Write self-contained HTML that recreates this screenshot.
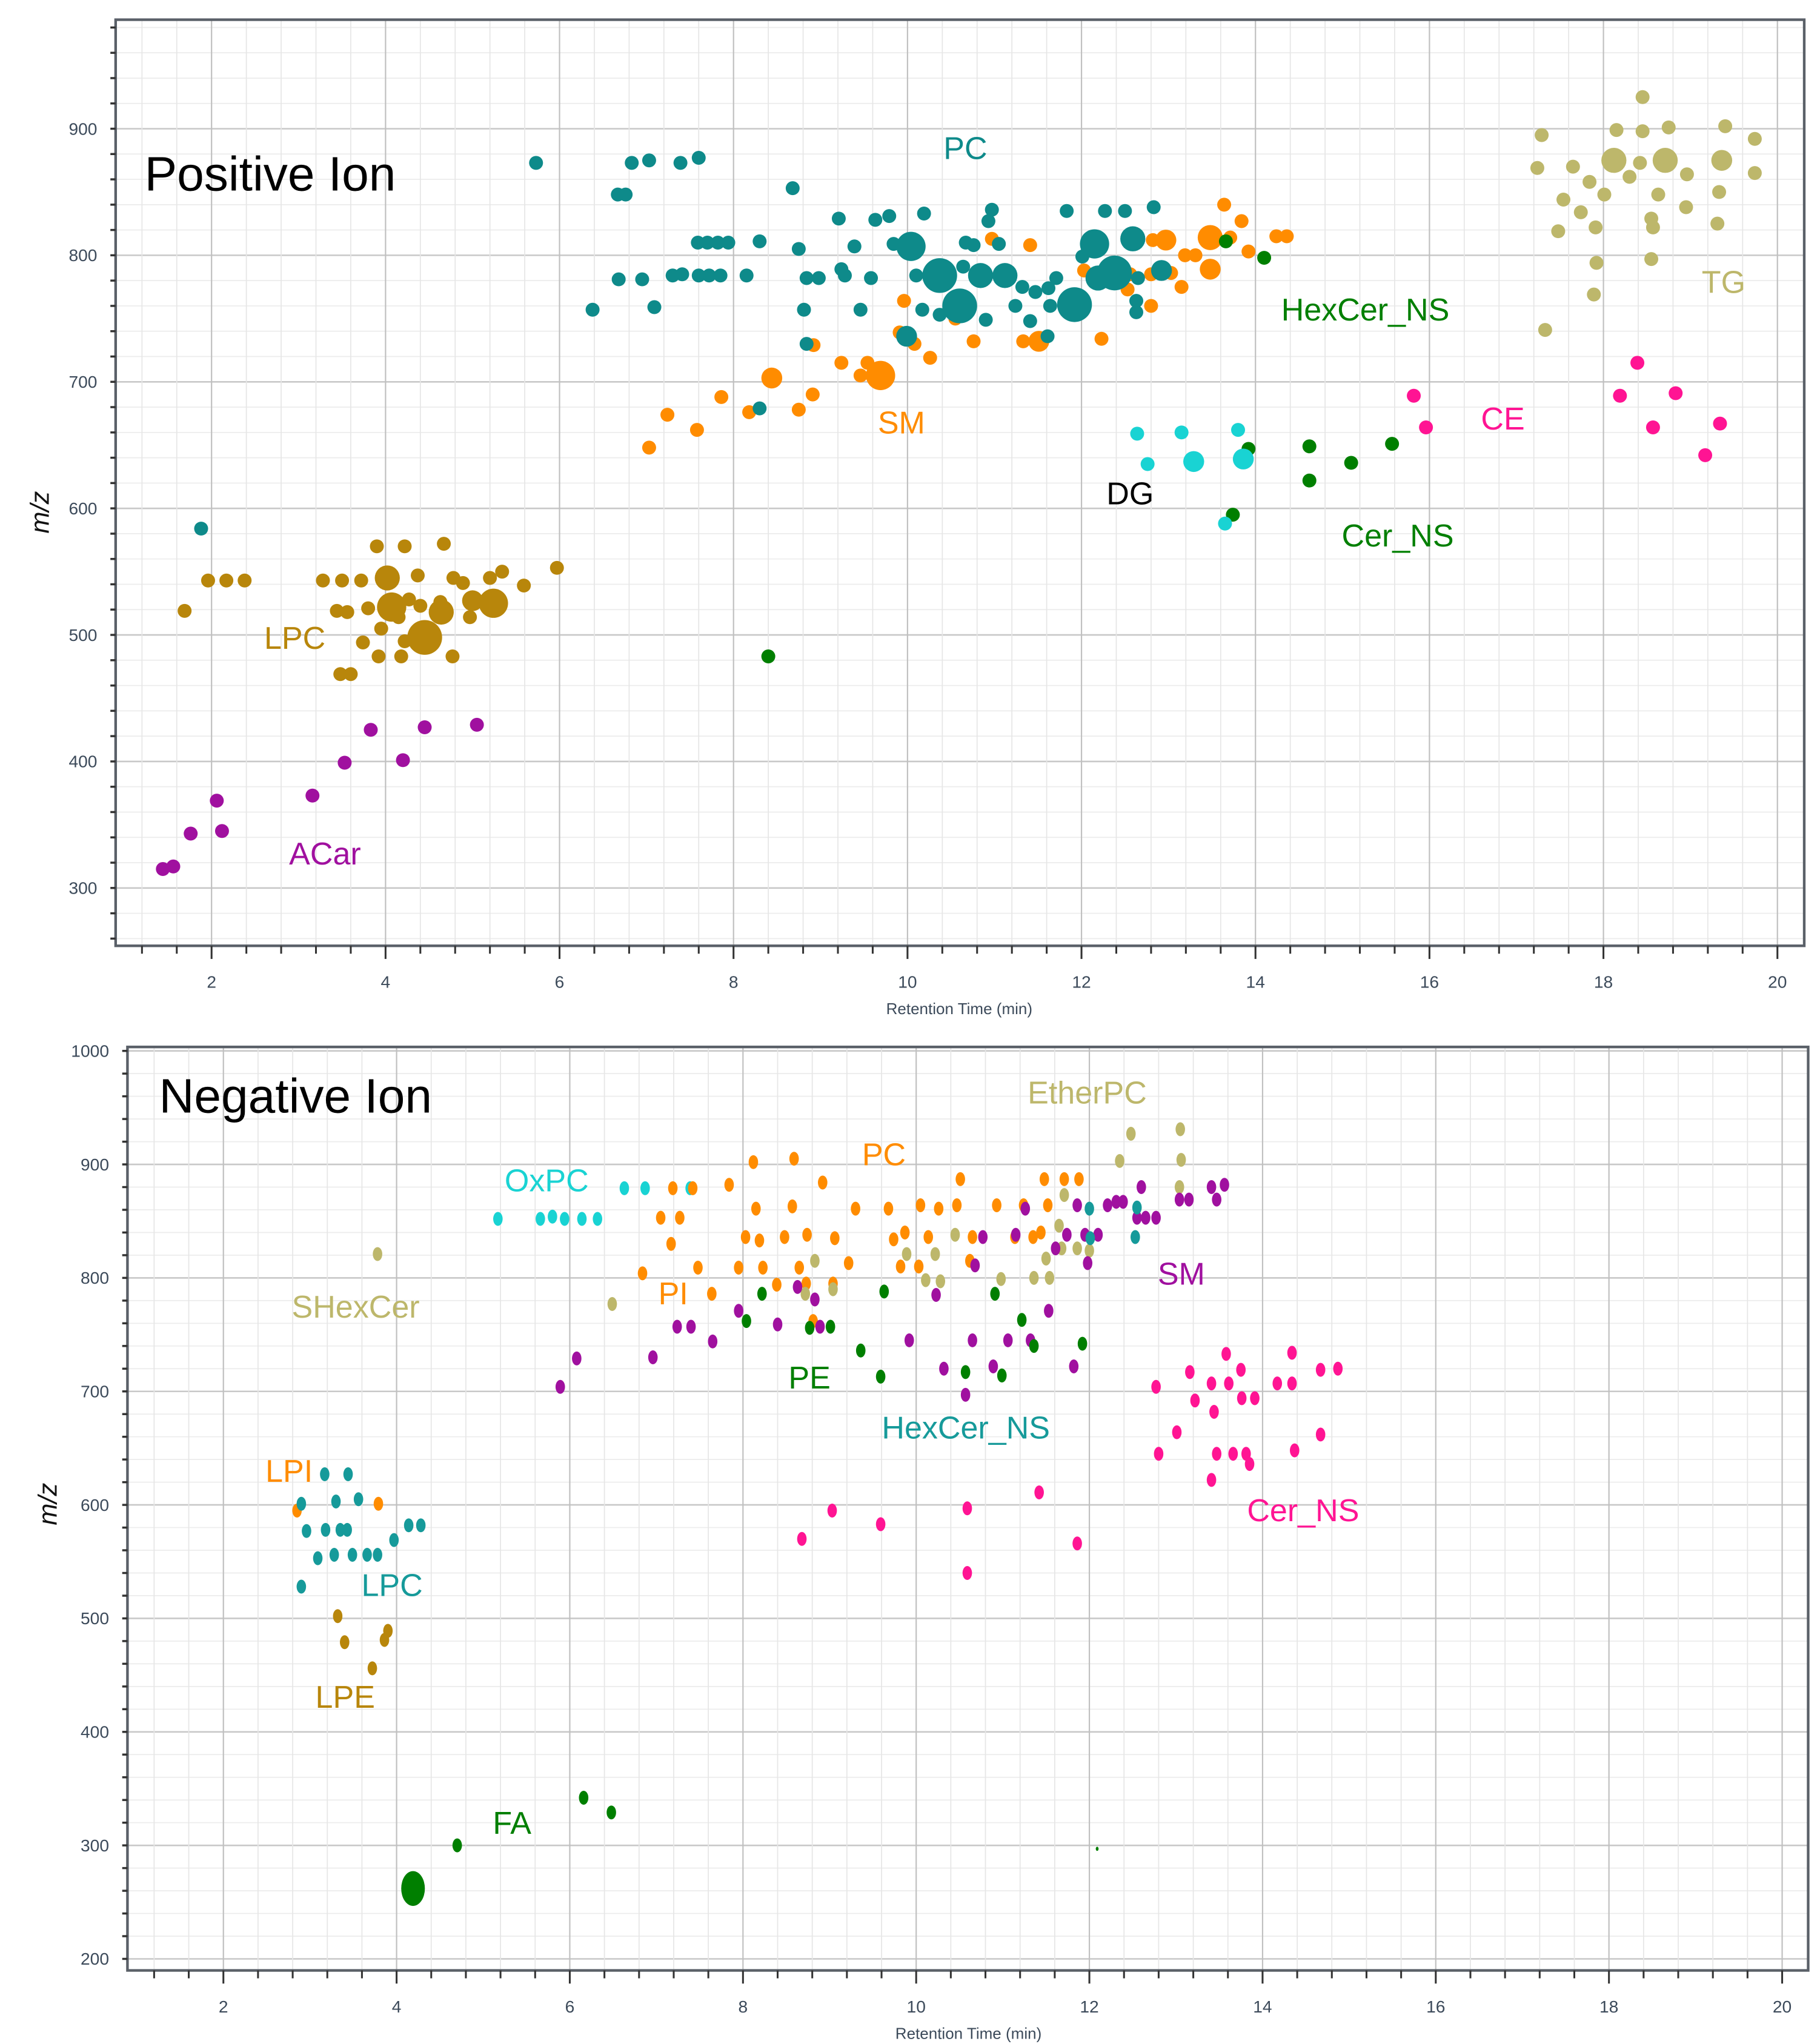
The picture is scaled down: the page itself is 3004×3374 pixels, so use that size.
<!DOCTYPE html>
<html><head><meta charset="utf-8">
<style>
html,body{margin:0;padding:0;background:#fff;}
svg{display:block;font-family:"Liberation Sans",sans-serif;}
</style></head>
<body>
<svg id="chart" xmlns="http://www.w3.org/2000/svg" width="3004" height="3374" viewBox="0 0 1385 1556" preserveAspectRatio="none">
<g id="top"></g>
<g id="bot"></g>
</svg>
<script>
// ---------- axis tick data ----------
const topYTicks=[300,400,500,600,700,800,900];
const botYTicks=[200,300,400,500,600,700,800,900,1000];
const xTicks=[2,4,6,8,10,12,14,16,18,20];

// ---------- Positive ion data ----------
const posPcX=[5.73,6.67,6.76,6.83,7.03,7.39,7.6,8.68,6.38,6.68,6.95,7.09,7.3,7.41,7.59,7.7,7.82,7.94,8.3,7.6,7.72,7.85,8.15,8.75,8.84,8.98,9.21,9.24,9.39,9.28,9.46,9.58,9.63,9.79,9.84,10.04,10.1,10.19,10.29,10.37,10.6,10.67,10.76,10.84,10.93,10.97,11.05,11.12,11.24,11.41,11.47,11.64,11.71,11.83,11.92,12.01,12.15,12.19,12.38,12.27,12.5,12.59,12.65,12.83,12.92,10.64,10.17,8.81,8.84,9.99,10.37,10.54,10.9,11.32,11.61,11.62,12.63,12.63,1.88,8.3];
const posPcY=[873,848,848,873,875,873,877,853,757,781,781,759,784,785,810,810,810,810,811,784,784,784,784,805,782,782,829,789,807,784,757,782,828,831,809,807,784,833,784,784,760,810,808,784,827,836,809,784,760,748,771,760,782,835,761,799,809,782,786,835,835,813,782,838,788,791,757,757,730,736,753,756,749,775,736,774,755,764,584,679];
const posPcS=[1,1,1,1,1,1,1,1,1,1,1,1,1,1,1,1,1,1,1,1,1,1,1,1,1,1,1,1,1,1,1,1,1,1,1,2.1,1,1,1,2.5,2.5,1,1,1.8,1,1,1,1.8,1,1,1,1,1,1,2.5,1,2.1,1.8,2.5,1,1,1.8,1,1,1.5,1,1,1,1,1.5,1,1,1,1,1,1,1,1,1,1];
const posSmX=[7.03,7.24,7.58,7.86,8.18,8.44,8.75,8.91,8.92,9.24,9.46,9.69,9.54,9.91,10.08,10.26,10.55,10.76,10.97,11.33,11.51,11.41,12.03,12.23,12.53,12.8,12.8,12.97,13.15,13.19,13.31,13.48,13.48,13.64,13.71,13.84,13.92,14.24,14.36,13.03,12.82,12.24,12.56,9.96];
const posSmY=[648,674,662,688,676,703,678,690,729,715,705,705,715,739,730,719,750,732,813,732,732,808,788,734,773,760,785,812,775,800,800,789,814,840,814,827,803,815,815,786,812,783,785,764];
const posSmS=[1,1,1,1,1,1.5,1,1,1,1,1,2.1,1,1,1,1,1,1,1,1,1.5,1,1,1,1,1,1,1.5,1,1,1,1.5,1.8,1,1,1,1,1,1,1,1,1,1,1];
const posHexX=[13.66,14.1,8.4];
const posHexY=[811,798,483];
const posCerX=[13.92,13.74,14.62,14.62,15.1,15.57];
const posCerY=[647,595,649,622,636,651];
const posDgX=[12.64,12.76,13.15,13.29,13.8,13.86,13.65];
const posDgY=[659,635,660,637,662,639,588];
const posDgS=[1,1,1,1.5,1,1.5,1];
const posCeX=[15.82,15.96,18.39,18.19,18.83,18.57,19.34,19.17];
const posCeY=[689,664,715,689,691,664,667,642];
const posTgX=[17.29,17.24,17.65,17.54,17.48,17.84,17.74,18.01,17.91,17.92,17.89,17.33,18.15,18.12,18.3,18.42,18.45,18.45,18.63,18.55,18.57,18.55,18.75,18.71,18.96,18.95,19.4,19.36,19.33,19.31,19.74,19.74];
const posTgY=[895,869,870,844,819,858,834,848,822,794,769,741,899,875,862,873,925,898,848,829,822,797,901,875,864,838,902,875,850,825,892,865];
const posTgS=[1,1,1,1,1,1,1,1,1,1,1,1,1,1.8,1,1,1,1,1,1,1,1,1,1.8,1,1,1,1.5,1,1,1,1];
const posLpcX=[1.69,1.96,2.17,2.38,3.28,3.5,3.44,3.72,3.9,4.02,4.22,4.37,4.67,4.78,3.56,3.8,4.07,4.27,4.15,3.95,3.74,3.92,3.48,3.6,4.45,4.64,4.4,4.63,4.77,5.0,5.24,5.2,5.34,5.59,5.97,4.22,4.18,4.89,4.97];
const posLpcY=[519,543,543,543,543,543,519,543,570,545,570,547,572,545,518,521,522,528,514,505,494,483,469,469,498,518,523,526,483,527,525,545,550,539,553,495,483,541,514];
const posLpcS=[1,1,1,1,1,1,1,1,1,1.8,1,1,1,1,1,1,2.1,1,1,1,1,1,1,1,2.5,1.8,1,1,1,1.5,2.1,1,1,1,1,1,1,1,1];
const posAcarX=[1.44,1.56,1.76,2.06,2.12,3.16,3.53,3.83,4.2,4.45,5.05];
const posAcarY=[315,317,343,369,345,373,399,425,401,427,429];

// ---------- Negative ion data ----------
const negFaX=[4.19,4.7,6.16,6.48,12.09];
const negFaY=[262,300,342,329,297];
const negFaS=[2.5,1,1,1,0.3];
const negLpcX=[2.9,2.96,2.9,3.09,3.17,3.18,3.3,3.35,3.43,3.44,3.56,3.49,3.66,3.78,3.97,4.14,4.28,3.28];
const negLpcY=[601,577,528,553,627,578,603,578,578,627,605,556,556,556,569,582,582,556];
const negLpiX=[2.85,3.79];
const negLpiY=[595,601];
const negLpeX=[3.32,3.4,3.72,3.86,3.9];
const negLpeY=[502,479,456,481,489];
const negShexX=[3.78,6.49];
const negShexY=[821,777];
const negOxX=[5.17,5.66,5.8,5.94,6.14,6.32,6.63,6.87,7.39];
const negOxY=[852,852,854,852,852,852,879,879,879];
const negPcX=[6.84,7.05,7.17,7.19,7.27,7.42,7.48,7.64,7.84,7.95,8.03,8.12,8.15,8.19,8.23,8.39,8.48,8.59,8.57,8.65,8.73,8.74,8.92,9.06,9.04,9.22,9.3,9.68,9.74,9.82,9.87,10.05,10.03,10.14,10.26,10.47,10.51,10.62,10.65,10.93,11.14,11.24,11.44,11.48,11.52,11.71,11.88,11.35,8.81];
const negPcY=[804,853,830,879,853,879,809,786,882,809,836,902,861,833,809,794,836,905,863,809,795,838,884,835,795,813,861,861,834,810,840,864,810,836,861,864,887,815,836,864,836,864,840,887,864,887,887,836,762];
const negEtherX=[12.48,12.35,13.05,13.06,13.04,11.71,8.83,9.04,9.89,10.22,10.28,10.11,10.45,10.98,11.36,11.5,11.54,11.68,11.65,11.86,12.0,8.72];
const negEtherY=[927,903,931,904,880,873,815,790,821,821,797,798,838,799,800,817,800,826,846,826,824,786];
const negSmX=[5.89,6.08,6.96,7.24,7.4,7.65,7.95,8.4,8.63,8.83,8.89,9.92,10.23,10.32,10.57,10.65,10.68,10.77,10.89,11.06,11.15,11.26,11.32,11.53,11.61,11.74,11.82,11.86,11.95,11.98,12.1,12.21,12.31,12.39,12.55,12.65,12.77,12.6,13.04,13.15,13.41,13.56,13.47];
const negSmY=[704,729,730,757,757,744,771,759,792,781,757,745,785,720,697,745,811,836,722,745,838,861,745,771,826,838,722,864,838,813,838,864,867,867,853,853,853,880,869,869,880,882,869];
const negPeX=[8.22,8.04,8.77,9.01,9.36,9.59,9.63,10.57,10.91,10.99,11.22,11.36,11.92];
const negPeY=[786,762,756,757,736,713,788,717,786,714,763,740,742];
const negHexX=[12.0,12.53,12.55,12.01];
const negHexY=[861,836,862,835];
const negCerX=[8.68,9.03,9.59,10.59,10.59,11.42,11.86,12.77,12.8,13.01,13.16,13.22,13.41,13.44,13.47,13.41,13.58,13.61,13.66,13.75,13.81,13.76,13.91,13.85,14.17,14.34,14.34,14.37,14.67,14.87,14.67];
const negCerY=[570,595,583,597,540,611,566,704,645,664,717,692,707,682,645,622,733,707,645,719,645,694,694,636,707,707,734,648,719,720,662];

const C={pc:'#0e8a8a',sm:'#ff8c00',green:'#007f00',cyan:'#19d3d3',pink:'#ff1493',tg:'#bdb76b',lpc:'#b8860b',purple:'#a0109f',teal2:'#169a9a'};
const NS='http://www.w3.org/2000/svg';
function mk(tag,attrs,parent){const e=document.createElementNS(NS,tag);for(const k in attrs)e.setAttribute(k,attrs[k]);parent.appendChild(e);return e;}

function buildPanel(g,P,yTicks,yMin,yMax){
  const sx=v=>P.x0+v*P.kx, sy=v=>P.y0-(v-P.v0)*P.ky;
  P.sx=sx;P.sy=sy;
  const grid=mk('g',{},g);
  
  
  for(let v=yMin;v<=yMax+0.01;v+=20){const y=sy(v);if(y<P.top+2||y>P.bot-2)continue;
    const major=Math.abs(v%100)<0.01;
    mk('line',{x1:P.left,x2:P.right,y1:y,y2:y,stroke:major?'#c8c8c8':'#ececec','stroke-width':major?1.2:0.8},grid);}
  for(let v=0.4;v<=21;v+=0.4){const x=sx(v);if(x<P.left+2||x>P.right-2)continue;
    const major=Math.abs(v/2-Math.round(v/2))<0.01;
    mk('line',{x1:x,x2:x,y1:P.top,y2:P.bot,stroke:major?'#c0c0c0':'#e6e6e6','stroke-width':major?1:0.8},grid);}
  const fr=mk('rect',{x:P.left,y:P.top,width:P.right-P.left,height:P.bot-P.top,fill:'none',stroke:'#5a6068','stroke-width':2},g);
  
  
  const ax=mk('g',{},g);
  
  
  for(let v=yMin;v<=yMax+0.01;v+=20){const y=sy(v);if(y<P.top+2||y>P.bot-2)continue;
    mk('line',{x1:P.left-4,x2:P.left,y1:y,y2:y,stroke:'#333','stroke-width':1.6},ax);}
  yTicks.forEach(t=>{const y=sy(t);
    const tx=mk('text',{x:P.left-14,y:y+4.5,'font-size':13,fill:'#3c4a5a','text-anchor':'end'},ax);
    tx.textContent=t;
    
    });
  for(let v=0.4;v<=21;v+=0.4){const x=sx(v);if(x<P.left+2||x>P.right-2)continue;
    const major=Math.abs(v/2-Math.round(v/2))<0.01;
    mk('line',{x1:x,x2:x,y1:P.bot,y2:P.bot+(major?10:6),stroke:'#333','stroke-width':1.4},ax);}
  xTicks.forEach(t=>{const x=sx(t);
    const tx=mk('text',{x:x,y:P.bot+32,'font-size':13,fill:'#3c4a5a','text-anchor':'middle'},ax);
    tx.textContent=t;
    
    });
  const xt=mk('text',{x:P.xtX,y:P.bot+52,'font-size':12,fill:'#3c4a5a','text-anchor':'middle'},g);
  xt.textContent='Retention Time (min)';
  
  
  const yt=mk('text',{x:0,y:0,'font-size':20,'font-style':'italic',fill:'#111','text-anchor':'middle',transform:`translate(${P.ytX},${P.ytY}) rotate(-90)`},g);
  yt.textContent='m/z';
  
  
}

function series(g,P,xs,ys,ss,color,name,ellipse){
  const sg=mk('g',{},g);
  
  
  xs.forEach((v,i)=>{const s=ss?ss[i]:1;
    const el=ellipse?mk('ellipse',{cx:P.sx(v),cy:P.sy(ys[i]),rx:3.6*s,ry:5.3*s,fill:color},sg)
                    :mk('circle',{cx:P.sx(v),cy:P.sy(ys[i]),r:5.3*s,fill:color},sg);
    
    });
}
function label(g,x,y,txt,color,size,name){
  const t=mk('text',{x:x,y:y,'font-size':size,fill:color},g);
  t.textContent=txt;
  
  
}

const T=document.getElementById('top'), B=document.getElementById('bot');
const PT={left:88,right:1373,top:15,bot:720,x0:28.6,kx:66.2,y0:98,v0:900,ky:0.9633,xtX:730,ytX:37,ytY:390};
const PB={left:97,right:1376,top:797,bot:1500,x0:38.2,kx:65.9,y0:800,v0:1000,ky:0.864,xtX:737,ytX:43,ytY:1145};
buildPanel(T,PT,topYTicks,260,980);
buildPanel(B,PB,botYTicks,200,1000);

series(T,PT,posAcarX,posAcarY,null,C.purple,'acar-series');
series(T,PT,posLpcX,posLpcY,posLpcS,C.lpc,'lpc-series');
series(T,PT,posSmX,posSmY,posSmS,C.sm,'sm-series');
series(T,PT,posPcX,posPcY,posPcS,C.pc,'pc-series');
series(T,PT,posHexX,posHexY,null,C.green,'hexcer-ns-series');
series(T,PT,posCerX,posCerY,null,C.green,'cer-ns-series');
series(T,PT,posDgX,posDgY,posDgS,C.cyan,'dg-series');
series(T,PT,posCeX,posCeY,null,C.pink,'ce-series');
series(T,PT,posTgX,posTgY,posTgS,C.tg,'tg-series');

label(T,110,145,'Positive Ion','#000',37,'panel-title-positive');
label(T,718,121,'PC',C.pc,24,'label-pc');
label(T,668,330,'SM',C.sm,24,'label-sm');
label(T,975,244,'HexCer_NS',C.green,24,'label-hexcer-ns');
label(T,1127,327,'CE',C.pink,24,'label-ce');
label(T,1295,223,'TG',C.tg,24,'label-tg');
label(T,842,384,'DG','#000',24,'label-dg');
label(T,1021,416,'Cer_NS',C.green,24,'label-cer-ns');
label(T,201,494,'LPC',C.lpc,24,'label-lpc');
label(T,220,658,'ACar',C.purple,24,'label-acar');

series(B,PB,negFaX,negFaY,negFaS,C.green,'fa-series',true);
series(B,PB,negLpeX,negLpeY,null,C.lpc,'lpe-series',true);
series(B,PB,negLpiX,negLpiY,null,C.sm,'lpi-series',true);
series(B,PB,negLpcX,negLpcY,null,C.teal2,'lpc-neg-series',true);
series(B,PB,negShexX,negShexY,null,C.tg,'shexcer-series',true);
series(B,PB,negOxX,negOxY,null,C.cyan,'oxpc-series',true);
series(B,PB,negPcX,negPcY,null,C.sm,'pc-pi-series',true);
series(B,PB,negEtherX,negEtherY,null,C.tg,'etherpc-series',true);
series(B,PB,negSmX,negSmY,null,C.purple,'sm-neg-series',true);
series(B,PB,negPeX,negPeY,null,C.green,'pe-series',true);
series(B,PB,negHexX,negHexY,null,C.teal2,'hexcer-neg-series',true);
series(B,PB,negCerX,negCerY,null,C.pink,'cer-neg-series',true);

label(B,121,847,'Negative Ion','#000',37,'panel-title-negative');
label(B,782,840,'EtherPC',C.tg,24,'label-etherpc');
label(B,656,887,'PC',C.sm,24,'label-pc-neg');
label(B,384,907,'OxPC',C.cyan,24,'label-oxpc');
label(B,222,1003,'SHexCer',C.tg,24,'label-shexcer');
label(B,501,993,'PI',C.sm,24,'label-pi');
label(B,881,978,'SM',C.purple,24,'label-sm-neg');
label(B,600,1057,'PE',C.green,24,'label-pe');
label(B,671,1095,'HexCer_NS',C.teal2,24,'label-hexcer-neg');
label(B,202,1128,'LPI',C.sm,24,'label-lpi');
label(B,949,1158,'Cer_NS',C.pink,24,'label-cer-neg');
label(B,275,1215,'LPC',C.teal2,24,'label-lpc-neg');
label(B,240,1300,'LPE',C.lpc,24,'label-lpe');
label(B,375,1396,'FA',C.green,24,'label-fa');
</script>
</body></html>
